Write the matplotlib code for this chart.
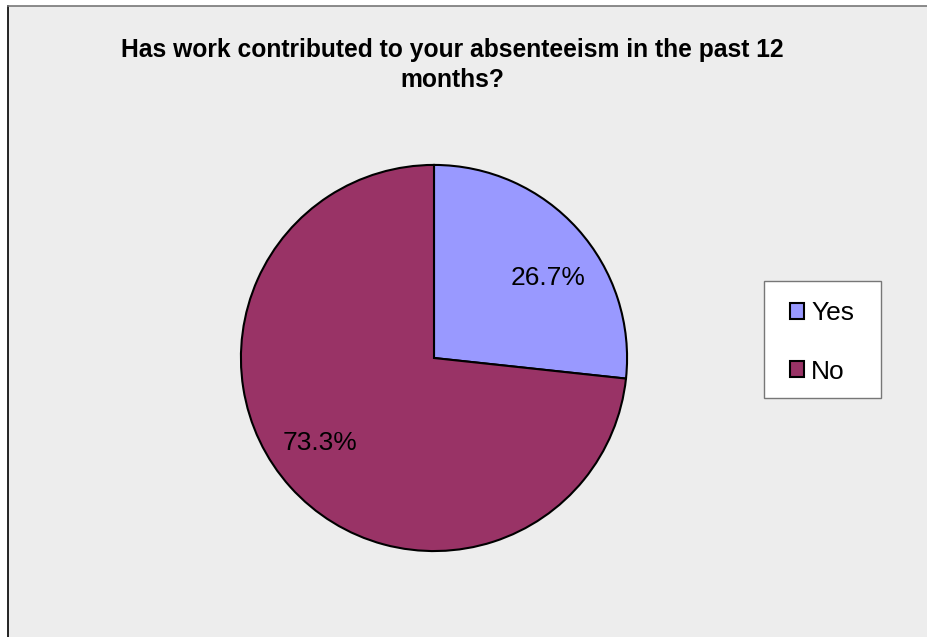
import numpy as np
import matplotlib.pyplot as plt
from matplotlib.patches import Rectangle

plt.rcParams['font.family'] = ['Liberation Sans', 'DejaVu Sans']

# survey answers (percent of respondents)
labels = ['Yes', 'No']
shares = [26.7, 73.3]
colors = ['#9999ff', '#993366']
title = 'Has work contributed to your absenteeism in the past 12\nmonths?'

W, H = 928, 637
fig = plt.figure(figsize=(W / 100, H / 100), dpi=100)
fig.patch.set_facecolor('white')

# grey chart area with a thin frame on the left and top
fig.patches.append(Rectangle((8 / W, 0), 1, 1 - 6 / H, transform=fig.transFigure,
                             facecolor='#ededed', edgecolor='none', zorder=-5))
fig.add_artist(plt.Line2D([8 / W, 8 / W], [0, 1 - 6 / H], color='black', lw=1.2,
                          transform=fig.transFigure))
fig.add_artist(plt.Line2D([8 / W, 1], [1 - 6 / H, 1 - 6 / H], color='#777777', lw=1.2,
                          transform=fig.transFigure))

# pie: centre (434, 358) px, radius 195 px
cx, cy, r = 434, 358, 195
ax = fig.add_axes([(cx - r) / W, (H - cy - r) / H, 2 * r / W, 2 * r / H])
ax.set_zorder(2)
wedges, texts, autotexts = ax.pie(
    shares, colors=colors, startangle=90, counterclock=False,
    autopct='%.1f%%', pctdistance=0.73,
    wedgeprops=dict(edgecolor='black', linewidth=1.5),
    textprops=dict(fontsize=19, color='black'))
# percent labels sit a little clockwise of the wedge middle
for w, t in zip(wedges, autotexts):
    ang = np.deg2rad((w.theta1 + w.theta2) / 2 - 6)
    t.set_position((0.73 * np.cos(ang), 0.73 * np.sin(ang)))
    t.set_va('center_baseline')
ax.set_xlim(-1.01, 1.01)
ax.set_ylim(-1.01, 1.01)
ax.set_aspect('auto')
ax.axis('off')

fig.text(452 / W, 1 - 38 / H, title, ha='center', va='top', fontsize=17.7,
         fontweight='bold', linespacing=1.33)

# legend box
fig.patches.append(Rectangle((764 / W, 1 - 398 / H), 117 / W, 117 / H,
                             transform=fig.transFigure, facecolor='white',
                             edgecolor='#777777', lw=1.0, zorder=1))
leg = fig.legend(wedges, labels, loc='center', bbox_to_anchor=(822 / W, 1 - 342.5 / H),
                 frameon=False, fontsize=19, handlelength=0.55,
                 handleheight=0.55, handletextpad=0.25, labelspacing=1.3,
                 borderpad=0, borderaxespad=0)
leg.set_zorder(3)
for h in leg.legend_handles:
    h.set_linewidth(1.5)

fig.savefig('out.png', dpi=100, facecolor=fig.get_facecolor())
